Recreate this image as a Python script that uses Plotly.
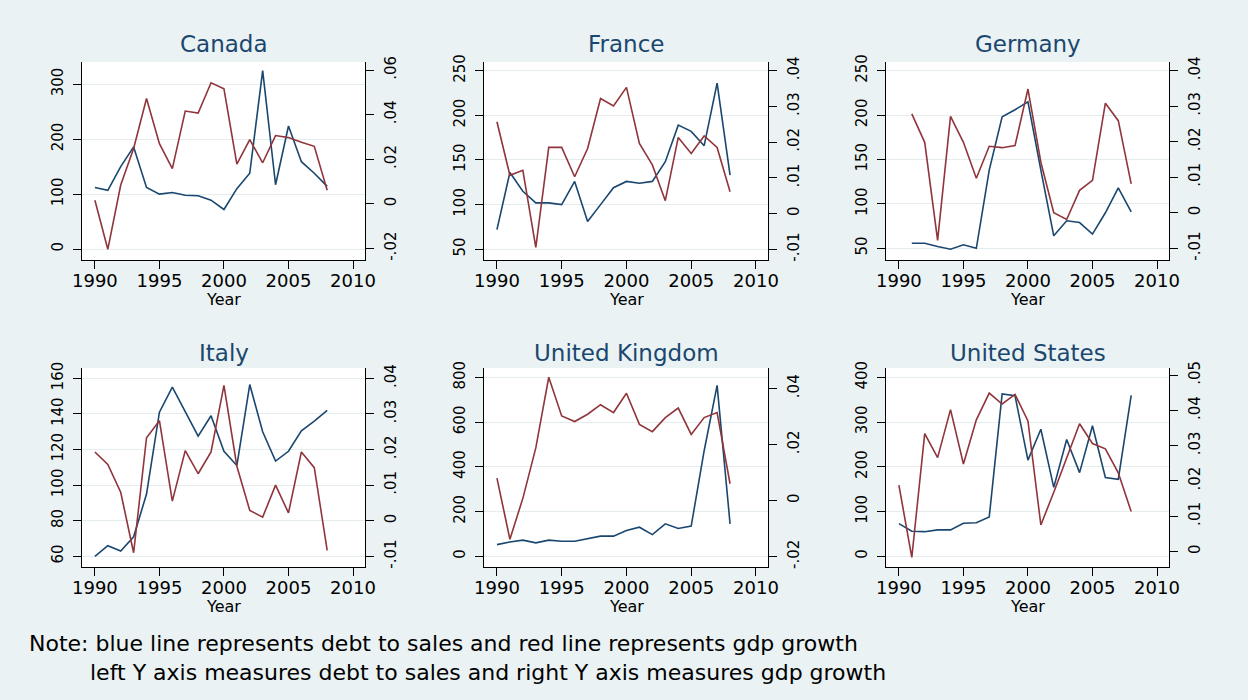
import plotly.graph_objects as go

years = list(range(1990, 2009))
years_de = list(range(1991, 2009))

countries = ["Canada", "France", "Germany", "Italy", "United Kingdom", "United States"]

canada_debt = [112, 107, 150, 186, 112, 100, 103, 98, 97, 89, 72, 110, 138, 325, 117, 224, 159, 138, 114]
canada_gdp = [0.0016, -0.0204, 0.0084, 0.0248, 0.0472, 0.027, 0.0158, 0.0416, 0.0407, 0.0543,
              0.0516, 0.0178, 0.0288, 0.0184, 0.0306, 0.0297, 0.0276, 0.0258, 0.0061]

france_debt = [72, 136, 115, 102, 102, 100, 126, 81, 100, 119, 126, 124, 126, 148, 189, 182, 166, 236, 133]
france_gdp = [0.0257, 0.0107, 0.0121, -0.0095, 0.0185, 0.0185, 0.0103, 0.0182, 0.0322, 0.0301,
              0.0353, 0.0196, 0.0136, 0.0036, 0.0213, 0.0168, 0.0217, 0.0185, 0.0061]

germany_debt = [55.6, 55.6, 52, 49, 54, 50, 138, 198, 206, 215, 138, 64, 81, 79, 66, 90, 118, 91]
germany_gdp = [0.0278, 0.0198, -0.0078, 0.0271, 0.0198, 0.0097, 0.0187, 0.0183, 0.0189, 0.0348,
               0.0142, 0.0, -0.0019, 0.0063, 0.0091, 0.0308, 0.0259, 0.0081]

italy_debt = [60, 66, 63, 71, 95, 141, 155, 141.5, 127.5, 139, 119, 111, 156.5, 130, 113.5, 119, 130.5, 136, 142]
italy_gdp = [0.0193, 0.0158, 0.008, -0.009, 0.0233, 0.0281, 0.0055, 0.0197, 0.0132, 0.0193,
             0.038, 0.0153, 0.0029, 0.001, 0.01, 0.0022, 0.0193, 0.0149, -0.0083]

uk_debt = [52, 64, 72, 60, 72, 67, 67, 79, 90, 90, 115, 130, 97, 145, 124, 135, 472, 764, 145]
uk_gdp = [0.008, -0.0138, 0.0008, 0.0188, 0.044, 0.0302, 0.0282, 0.0308, 0.0342, 0.0314,
          0.0383, 0.0272, 0.0246, 0.0296, 0.033, 0.0236, 0.0296, 0.0314, 0.006]

us_debt = [73, 56, 55, 59, 59, 74, 75, 88, 363, 359, 215, 284, 154, 261, 187, 292, 176, 172, 360]
us_gdp = [0.0188, -0.0017, 0.0334, 0.0266, 0.0402, 0.0248, 0.0373, 0.0449, 0.0418, 0.0445,
          0.037, 0.0075, 0.0168, 0.0264, 0.0362, 0.0306, 0.0291, 0.0223, 0.0113]

x_ticks = [1990, 1995, 2000, 2005, 2010]
x_ticktext = ["1990", "1995", "2000", "2005", "2010"]

left_ticks = {
    "Canada": [0, 100, 200, 300],
    "France": [50, 100, 150, 200, 250],
    "Germany": [50, 100, 150, 200, 250],
    "Italy": [60, 80, 100, 120, 140, 160],
    "United Kingdom": [0, 200, 400, 600, 800],
    "United States": [0, 100, 200, 300, 400],
}
right_ticks = {
    "Canada": [-0.02, 0, 0.02, 0.04, 0.06],
    "France": [-0.01, 0, 0.01, 0.02, 0.03, 0.04],
    "Germany": [-0.01, 0, 0.01, 0.02, 0.03, 0.04],
    "Italy": [-0.01, 0, 0.01, 0.02, 0.03, 0.04],
    "United Kingdom": [-0.02, 0, 0.02, 0.04],
    "United States": [0, 0.01, 0.02, 0.03, 0.04, 0.05],
}
right_ticktext = {
    "Canada": ["-.02", "0", ".02", ".04", ".06"],
    "France": ["-.01", "0", ".01", ".02", ".03", ".04"],
    "Germany": ["-.01", "0", ".01", ".02", ".03", ".04"],
    "Italy": ["-.01", "0", ".01", ".02", ".03", ".04"],
    "United Kingdom": ["-.02", "0", ".02", ".04"],
    "United States": ["0", ".01", ".02", ".03", ".04", ".05"],
}

series = {
    "Canada": (years, canada_debt, canada_gdp),
    "France": (years, france_debt, france_gdp),
    "Germany": (years_de, germany_debt, germany_gdp),
    "Italy": (years, italy_debt, italy_gdp),
    "United Kingdom": (years, uk_debt, uk_gdp),
    "United States": (years, us_debt, us_gdp),
}

# layout geometry (pixels in a 1248x700 canvas)
W, H = 1248, 700
col_x = [(82, 365), (484, 768), (886, 1169)]
row_y = [(62, 260), (368, 567)]
title_y = [44, 353]
year_y = [299, 606]

left_range = {
    "Canada": [-20, 340.6], "France": [38, 259.7], "Germany": [36.8, 259.8],
    "Italy": [54, 165.8], "United Kingdom": [-48, 842], "United States": [-24, 421],
}
right_range = {
    "Canada": [-0.0252, 0.0636], "France": [-0.013, 0.0424], "Germany": [-0.0133, 0.0424],
    "Italy": [-0.013, 0.0429], "United Kingdom": [-0.0237, 0.0473], "United States": [-0.0044, 0.052],
}

BLUE = "#1a476f"
RED = "#90353b"
BG = "#eaf2f3"
FONT = "DejaVu Sans"

fig = go.Figure()
layout = dict(
    template="none",
    width=W, height=H,
    paper_bgcolor=BG, plot_bgcolor="white",
    margin=dict(l=0, r=0, t=0, b=0, pad=0),
    showlegend=False,
    font=dict(family=FONT, color="black"),
    annotations=[],
)

for i, c in enumerate(countries):
    r, col = divmod(i, 3)
    x0, x1 = col_x[col]
    yt, yb = row_y[r]
    xd = [x0 / W, x1 / W]
    yd = [1 - yb / H, 1 - yt / H]
    xn = i + 1
    yl = 2 * i + 1
    yr = 2 * i + 2
    xa = "x" if xn == 1 else f"x{xn}"
    ya_l = "y" if yl == 1 else f"y{yl}"
    ya_r = f"y{yr}"
    xs, debt, gdp = series[c]

    fig.add_trace(go.Scatter(x=xs, y=debt, mode="lines", line=dict(color=BLUE, width=1.6),
                             xaxis=xa, yaxis=ya_l, name="debt to sales"))
    fig.add_trace(go.Scatter(x=xs, y=gdp, mode="lines", line=dict(color=RED, width=1.6),
                             xaxis=xa, yaxis=ya_r, name="gdp growth"))

    layout["xaxis" if xn == 1 else f"xaxis{xn}"] = dict(
        domain=xd, anchor=ya_l, range=[1989.0, 2010.93], automargin=False,
        tickvals=x_ticks, ticktext=x_ticktext, ticks="outside", ticklen=8,
        tickcolor="black", showline=True, linecolor="black", linewidth=1,
        showgrid=False, zeroline=False, tickfont=dict(size=18, family=FONT),
        ticklabelstandoff=-4,
    )
    layout["yaxis" if yl == 1 else f"yaxis{yl}"] = dict(
        domain=yd, anchor=xa, range=left_range[c], side="left", automargin=False,
        tickvals=left_ticks[c], ticks="outside", ticklen=8, tickcolor="black",
        tickangle=-90, showline=True, linecolor="black", linewidth=1,
        showgrid=True, gridcolor="#e4eced", gridwidth=1, zeroline=False,
        tickfont=dict(size=15, family=FONT), ticklabelstandoff=4,
    )
    layout[f"yaxis{yr}"] = dict(
        domain=yd, anchor=xa, overlaying=ya_l, side="right", range=right_range[c],
        automargin=False,
        tickvals=right_ticks[c], ticktext=right_ticktext[c], ticks="outside", ticklen=8,
        tickcolor="black", tickangle=-90, showline=True, linecolor="black", linewidth=1,
        showgrid=False, zeroline=False, tickfont=dict(size=15, family=FONT),
        ticklabelstandoff=4,
    )
    layout["annotations"].append(dict(
        text=c, xref="paper", yref="paper", x=(x0 + x1) / 2 / W, y=1 - title_y[r] / H,
        xanchor="center", yanchor="middle", showarrow=False,
        font=dict(size=23, color=BLUE, family=FONT),
    ))
    layout["annotations"].append(dict(
        text="Year", xref="paper", yref="paper", x=(x0 + x1) / 2 / W, y=1 - year_y[r] / H,
        xanchor="center", yanchor="middle", showarrow=False,
        font=dict(size=16, color="black", family=FONT),
    ))

layout["annotations"].append(dict(
    text="Note: blue line represents debt to sales and red line represents gdp growth",
    xref="paper", yref="paper", x=27 / W, y=1 - 643 / H, xanchor="left", yanchor="middle",
    showarrow=False, font=dict(size=22, color="black", family=FONT),
))
layout["annotations"].append(dict(
    text="left Y axis measures debt to sales and right Y axis measures gdp growth",
    xref="paper", yref="paper", x=88 / W, y=1 - 672 / H, xanchor="left", yanchor="middle",
    showarrow=False, font=dict(size=22, color="black", family=FONT),
))

fig.update_layout(**layout)
fig.write_html("out.html", config={"displayModeBar": False},
               post_script="document.body.style.margin='0';")
